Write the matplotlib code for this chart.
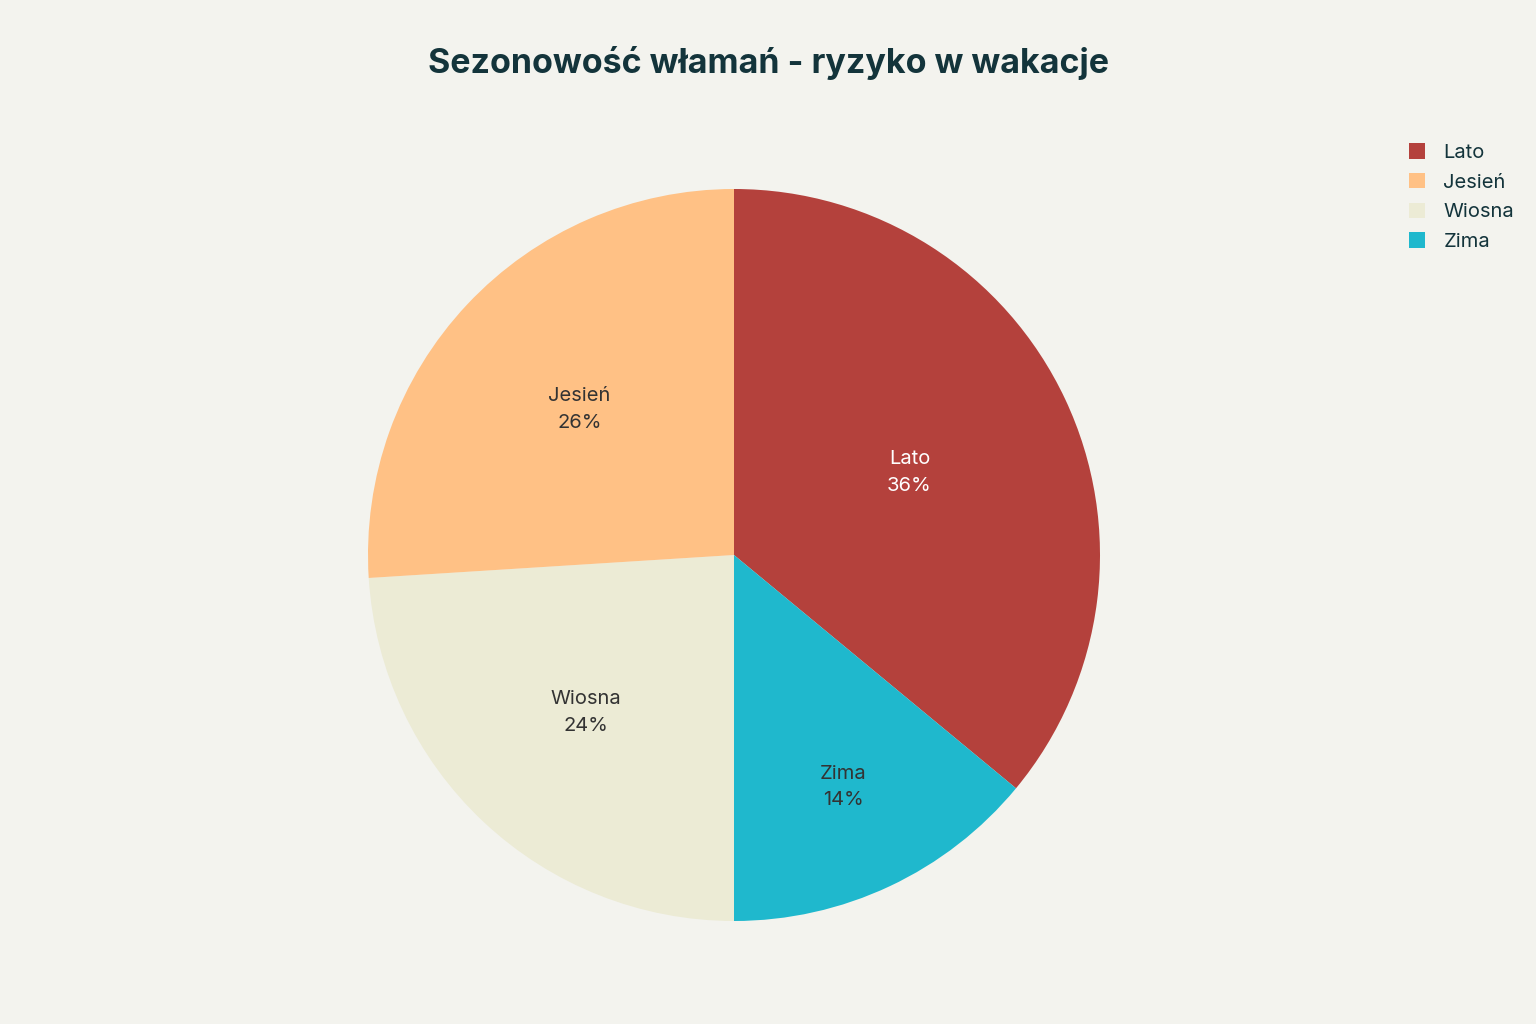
import matplotlib
matplotlib.use("Agg")
import matplotlib.pyplot as plt
import numpy as np
from matplotlib.patches import Patch

# Data
slice_order = ["Lato", "Zima", "Wiosna", "Jesień"]
slice_values = [36, 14, 24, 26]
slice_colors = ["#B4413C", "#1FB8CD", "#ECEBD5", "#FFC185"]
label_colors = ["white", "#333333", "#333333", "#333333"]
legend_order = ["Lato", "Jesień", "Wiosna", "Zima"]
title = "Sezonowość włamań - ryzyko w wakacje"

bg = "#F3F3EE"
plt.rcParams['font.family'] = ['Inter', 'DejaVu Sans']

fig = plt.figure(figsize=(15.36, 10.24), dpi=100, facecolor=bg)
cx, cy, r = 734, 555, 366
ax = fig.add_axes([(cx - r) / 1536, (1024 - cy - r) / 1024, 2 * r / 1536, 2 * r / 1024])
ax.set_facecolor(bg)

wedges, _ = ax.pie(slice_values, colors=slice_colors, startangle=90, counterclock=False,
                   radius=1, wedgeprops=dict(linewidth=0))
ax.set_xlim(-1, 1)
ax.set_ylim(-1, 1)
ax.set_aspect('equal')
ax.axis('off')

label_r = [0.53, 0.70, 0.59, 0.58]
total = sum(slice_values)
for w, name, v, lr, lc in zip(wedges, slice_order, slice_values, label_r, label_colors):
    ang = np.deg2rad((w.theta1 + w.theta2) / 2)
    ax.text(lr * np.cos(ang), lr * np.sin(ang), f"{name}\n{round(100 * v / total)}%",
            ha='center', va='center', fontsize=14.5, color=lc, linespacing=1.6)

fig.text(0.5, 1 - 63 / 1024, title, ha='center', va='center', fontsize=24.5,
         fontweight='bold', color='#13343B')

color_map = dict(zip(slice_order, slice_colors))
handles = [Patch(facecolor=color_map[n], edgecolor='none', label=n) for n in legend_order]
fig.legend(handles=handles, loc='upper left', bbox_to_anchor=(1391 / 1536, 1 - 125 / 1024),
           frameon=False, fontsize=14.5, handlelength=0.8, handleheight=0.8,
           handletextpad=0.9, labelspacing=0.55, labelcolor='#13343B')

fig.savefig("out.png", dpi=100, facecolor=bg)
